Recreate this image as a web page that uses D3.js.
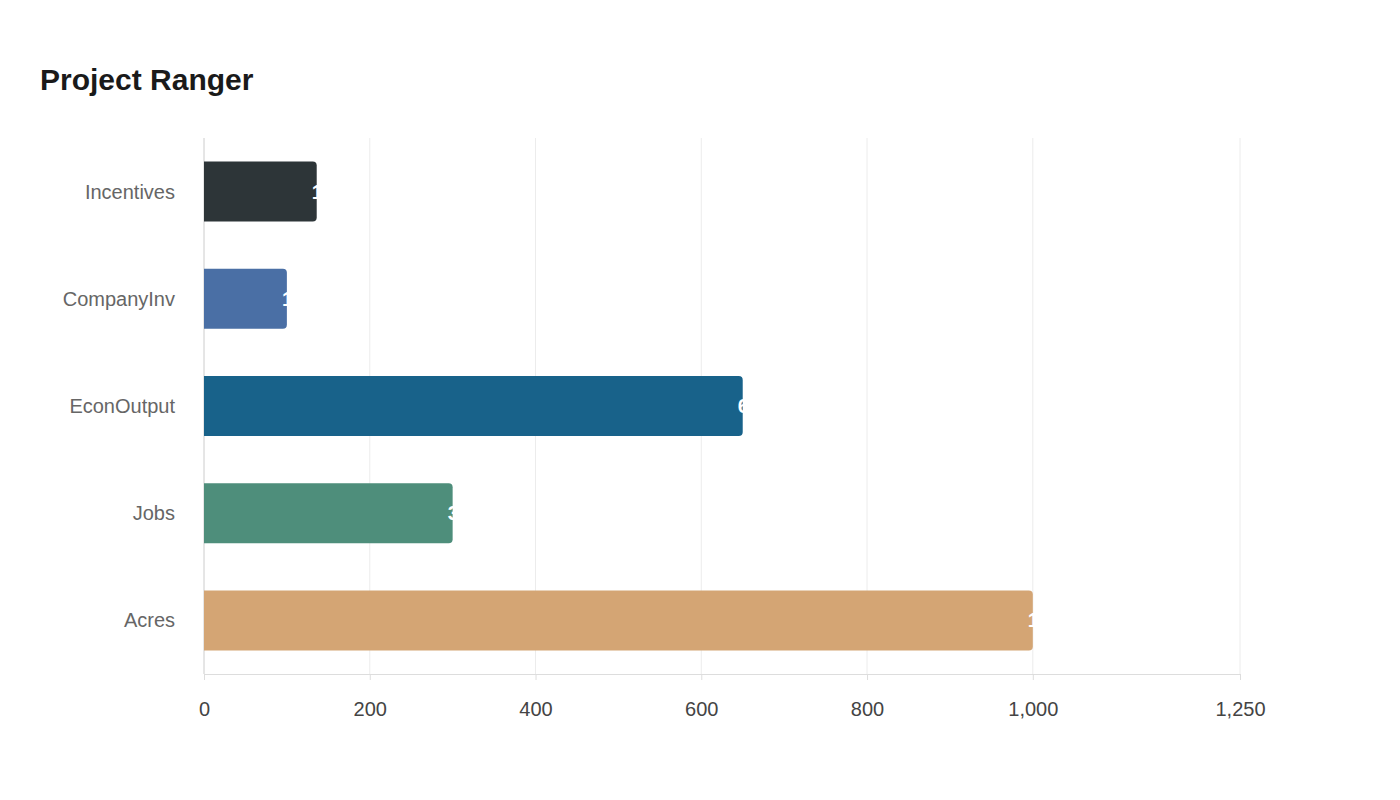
<!DOCTYPE html><html><head><meta charset="utf-8"><script src="https://cdn.jsdelivr.net/npm/d3@7"></script>
<style>body{margin:0;background:#fff}</style></head><body><svg id="c" width="1400" height="800"></svg>
<script>
const categories=["Incentives","CompanyInv","EconOutput","Jobs","Acres"];
const values=[136,100,650,300,1000];
const colors=["#2d3538","#4a6fa5","#18628a","#4e8e7b","#d4a574"];
const tickValues=[0,200,400,600,800,1000,1250];
const svg=d3.select("#c");
const L=204,R=1240,T=138,B=674;
const x=d3.scaleLinear().domain([0,1250]).range([L,R]);
const y=d3.scaleBand().domain(categories).range([T,B]).paddingInner(0.44).paddingOuter(0.22);
svg.append("text").attr("x",40).attr("y",90).text("Project Ranger").attr("font-family","Liberation Sans, Arial").attr("font-weight","bold").attr("font-size",30).attr("fill","#1a1a1a");
svg.append("g").selectAll("line").data(tickValues.slice(1)).join("line").attr("x1",d=>x(d)).attr("x2",d=>x(d)).attr("y1",T).attr("y2",B).attr("stroke","#ececec");
const ax=svg.append("g").attr("transform",`translate(0,${B})`).call(d3.axisBottom(x).tickValues(tickValues).tickFormat(d3.format(",")).tickSize(6).tickPadding(22));
ax.select(".domain").attr("stroke","#ddd");ax.selectAll(".tick line").attr("stroke","#ddd");
ax.selectAll("text").attr("font-family","Liberation Sans, Arial").attr("font-size",20).attr("fill","#444");
svg.append("line").attr("x1",L).attr("x2",L).attr("y1",T).attr("y2",B).attr("stroke","#ccc");
const g=svg.append("g");
categories.forEach((c,i)=>{
 const x0=x(0),x1=x(values[i]),y0=y(c),h=y.bandwidth(),r=4;
 g.append("path").attr("d",`M${x0},${y0}H${x1-r}Q${x1},${y0} ${x1},${y0+r}V${y0+h-r}Q${x1},${y0+h} ${x1-r},${y0+h}H${x0}Z`).attr("fill",colors[i]);
 g.append("text").attr("x",x1-5).attr("y",y0+h/2).attr("dy","0.35em").text(values[i]).attr("fill","#fff").attr("font-family","Liberation Sans, Arial").attr("font-weight","bold").attr("font-size",20);
 svg.append("text").attr("x",175).attr("y",y0+h/2).attr("dy","0.35em").attr("text-anchor","end").text(c).attr("font-family","Liberation Sans, Arial").attr("font-size",20).attr("fill","#666");
});
</script></body></html>
